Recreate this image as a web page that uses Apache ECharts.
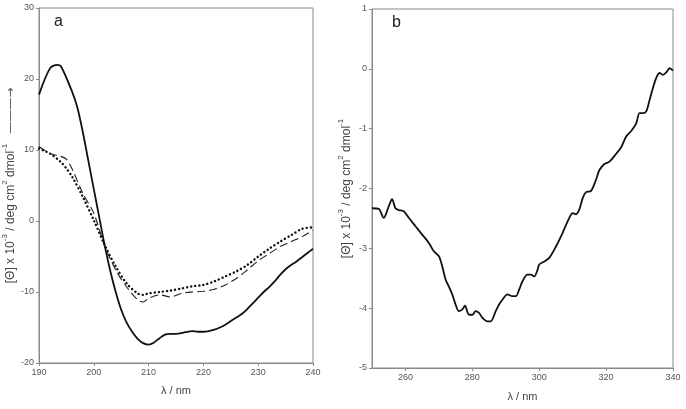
<!DOCTYPE html>
<html><head><meta charset="utf-8">
<script src="https://cdn.jsdelivr.net/npm/echarts@6/dist/echarts.min.js"></script>
<style>html,body{margin:0;padding:0;background:#fff}#c{width:686px;height:409px}</style>
</head><body><div id="c"></div>
<script>
// Panel a: far-UV CD
const waveA = [190,192,193.3,194,196,197,198,199,200,201,202,203,204,205,206,207,208,209,210,211,212,213,214,215,216,217,218,219,220,221,222,223,224,225,226,227,228,229,230,231,232,233,234,235,236,237,238,239,240];
const solidA = [17.8,21.5,22.0,21.8,18.3,16.0,12.5,8.5,4.5,0.5,-3.5,-7.0,-10.0,-12.5,-14.3,-15.6,-16.6,-17.2,-17.4,-17.1,-16.5,-16.0,-15.9,-15.9,-15.8,-15.6,-15.5,-15.6,-15.6,-15.5,-15.3,-15.0,-14.6,-14.1,-13.6,-13.1,-12.4,-11.6,-10.8,-10.0,-9.3,-8.5,-7.6,-6.8,-6.2,-5.7,-5.1,-4.5,-3.9];
const waveB2 = [190,192,194,195,196,198,200,202,204,206,208,209,210,212,214,216,218,220,222,224,226,228,230,232,234,236,238,240];
const dashedA = [10.5,9.5,9.1,8.7,7.4,3.9,1.1,-3.6,-6.9,-9.3,-11.1,-11.4,-10.9,-10.4,-10.7,-10.2,-10.0,-9.9,-9.6,-9.0,-8.1,-6.9,-5.6,-4.6,-3.6,-2.9,-2.2,-1.3];
const dottedA = [10.2,9.5,8.3,7.4,6.3,3.4,0.1,-3.4,-6.4,-8.8,-10.2,-10.4,-10.2,-10.0,-9.8,-9.5,-9.2,-9.0,-8.5,-7.8,-7.1,-6.2,-5.0,-3.9,-2.9,-2.0,-1.1,-0.9];
// Panel b: near-UV CD
const waveB = [250,252,253.5,255,256,257,258,259.5,261,263,265,267,268.5,270,271,272,273,274,275,276,277,277.8,279,280,281,282,283,284.5,285.5,287,288,289,290.5,292,293,294,295,296.5,297.5,298.5,299.5,300,301.5,303,305,307,309,310,311,312,313,314,315.5,317,318,319.5,321,323,324.5,326,327.5,329,330,331,332,333,334,335,336,337,338,339,340];
const curveB = [-2.33,-2.34,-2.49,-2.30,-2.18,-2.33,-2.36,-2.38,-2.49,-2.63,-2.77,-2.91,-3.05,-3.13,-3.30,-3.52,-3.64,-3.77,-3.94,-4.05,-4.02,-3.96,-4.11,-4.11,-4.05,-4.08,-4.16,-4.22,-4.22,-4.05,-3.94,-3.86,-3.77,-3.80,-3.80,-3.69,-3.55,-3.44,-3.44,-3.47,-3.36,-3.27,-3.22,-3.16,-2.97,-2.74,-2.49,-2.41,-2.43,-2.35,-2.16,-2.06,-2.04,-1.85,-1.69,-1.59,-1.55,-1.42,-1.31,-1.13,-1.04,-0.91,-0.74,-0.74,-0.71,-0.52,-0.32,-0.15,-0.07,-0.10,-0.06,0.01,-0.03];
const ticksXB = [260,280,300,320,340];

const zip = (xs, ys) => xs.map((x, i) => [x, ys[i]]);
const axisCol = '#8a8a8a';
const FF = 'Liberation Sans, Arial, sans-serif';
const lblStyle = {color:'#555', fontSize:9, fontFamily:FF, margin:5};
const xNameStyle = {color:'#444', fontSize:11, fontFamily:FF};
const rich = {
  t:{color:'#444', fontSize:12, fontFamily:FF, lineHeight:16, verticalAlign:'bottom'},
  s:{color:'#444', fontSize:8, fontFamily:FF, lineHeight:9, verticalAlign:'top'},
  a:{color:'#555', fontSize:12, fontFamily:'DejaVu Sans', lineHeight:16, verticalAlign:'bottom'}
};
const yNameRich = '{t|[Θ] x 10}{s|-3}{t| / deg cm}{s|2}{t| dmol}{s|-1}';

const chart = echarts.init(document.getElementById('c'), null, {renderer:'canvas'});
chart.setOption({
  animation:false,
  backgroundColor:'#fff',
  grid:[
    {left:39, top:8, width:274, height:355, show:true, borderColor:axisCol, borderWidth:1},
    {left:372, top:9, width:301, height:359, show:true, borderColor:axisCol, borderWidth:1}
  ],
  xAxis:[
    {gridIndex:0, type:'value', min:190, max:240, interval:10,
     axisLine:{onZero:false, lineStyle:{color:axisCol}}, axisTick:{length:3, lineStyle:{color:axisCol}},
     splitLine:{show:false}, axisLabel:lblStyle,
     name:'λ / nm', nameLocation:'middle', nameGap:22, nameTextStyle:xNameStyle},
    {gridIndex:1, type:'value', min:250, max:340,
     axisLine:{onZero:false, lineStyle:{color:axisCol}}, axisTick:{length:3, customValues:ticksXB, lineStyle:{color:axisCol}},
     splitLine:{show:false}, axisLabel:Object.assign({customValues:ticksXB}, lblStyle),
     name:'λ / nm', nameLocation:'middle', nameGap:23, nameTextStyle:xNameStyle}
  ],
  yAxis:[
    {gridIndex:0, type:'value', min:-20, max:30, interval:10,
     axisLine:{show:true, onZero:false, lineStyle:{color:axisCol}}, axisTick:{show:true, length:3, lineStyle:{color:axisCol}},
     splitLine:{show:false}, axisLabel:lblStyle,
     name:yNameRich + '{t|   }{a|———→}', nameLocation:'middle', nameGap:22, nameTextStyle:{rich:rich}},
    {gridIndex:1, type:'value', min:-5, max:1, interval:1,
     axisLine:{show:true, onZero:false, lineStyle:{color:axisCol}}, axisTick:{show:true, length:3, lineStyle:{color:axisCol}},
     splitLine:{show:false}, axisLabel:lblStyle,
     name:yNameRich, nameLocation:'middle', nameGap:19, nameTextStyle:{rich:rich}}
  ],
  series:[
    {type:'line', xAxisIndex:0, yAxisIndex:0, data:zip(waveA, solidA), smooth:0.3, showSymbol:false,
     lineStyle:{color:'#111', width:1.8}},
    {type:'line', xAxisIndex:0, yAxisIndex:0, data:zip(waveB2, dashedA), smooth:0.3, showSymbol:false,
     lineStyle:{color:'#222', width:1.1, type:[8,4]}},
    {type:'line', xAxisIndex:0, yAxisIndex:0, data:zip(waveB2, dottedA), smooth:0.3, showSymbol:false,
     lineStyle:{color:'#111', width:2.4, type:[0.1,4], cap:'round'}},
    {type:'line', xAxisIndex:1, yAxisIndex:1, data:zip(waveB, curveB), smooth:0.3, showSymbol:false,
     lineStyle:{color:'#111', width:1.8}}
  ],
  graphic:[
    {type:'text', left:54, top:14, style:{text:'a', fontSize:16, fill:'#222', fontFamily:FF}},
    {type:'text', left:392, top:15, style:{text:'b', fontSize:16, fill:'#222', fontFamily:FF}}
  ]
});
</script></body></html>
